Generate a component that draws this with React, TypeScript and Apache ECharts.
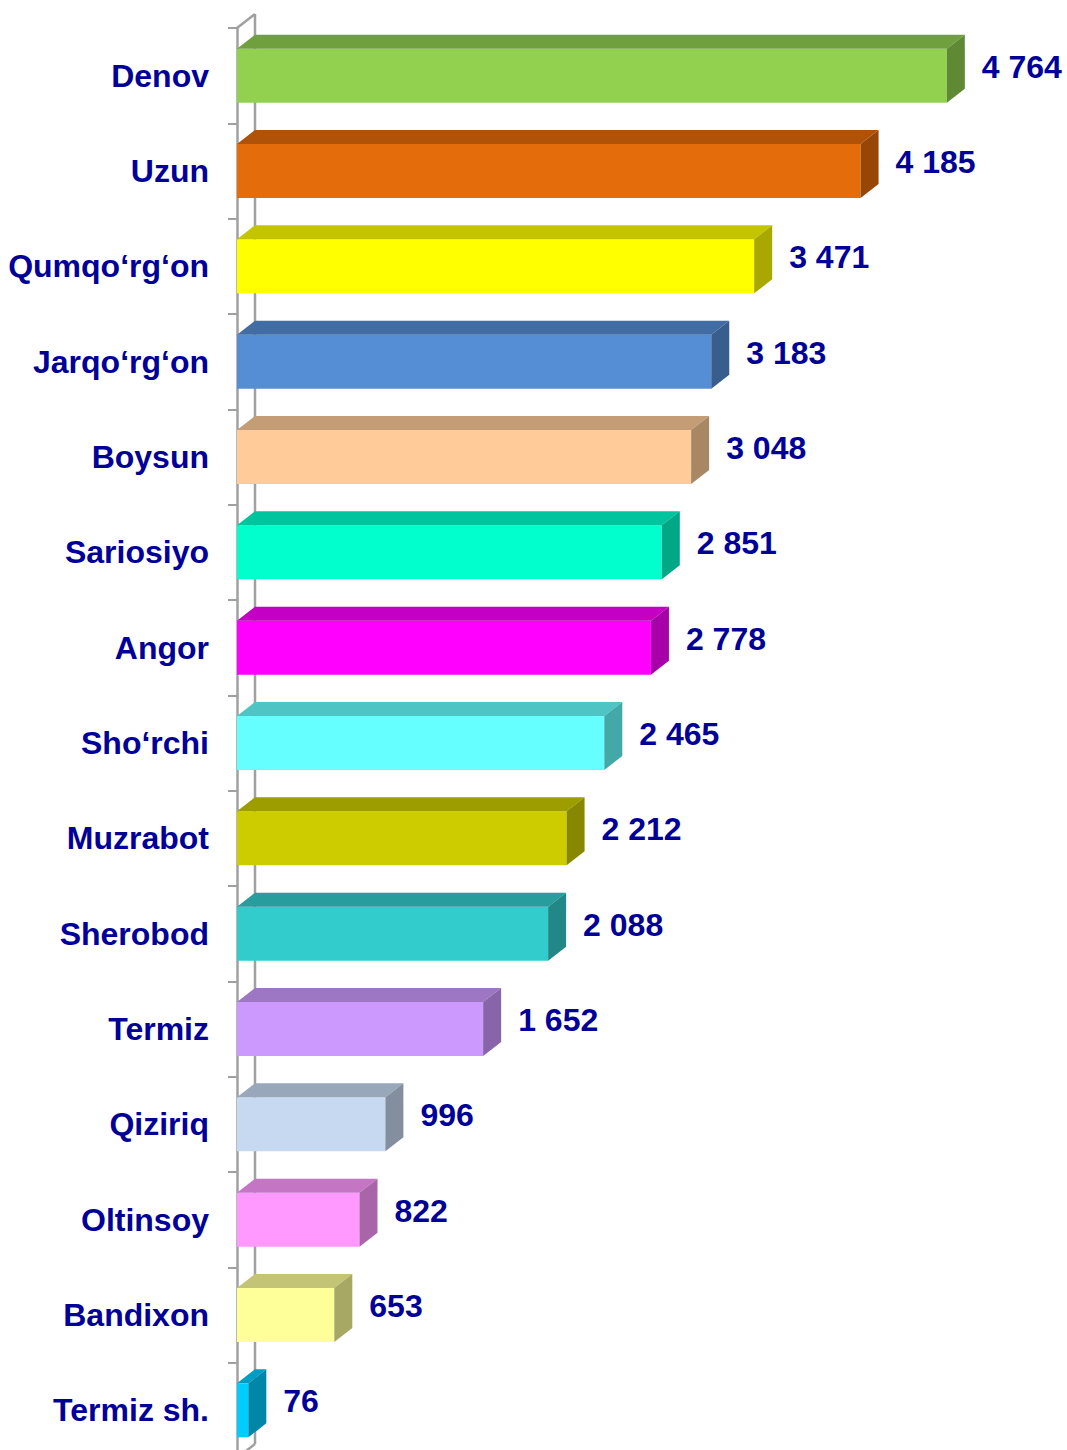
import React, { useEffect, useRef } from "react";
import * as echarts from "echarts";

const categories = [
  "Denov", "Uzun", "Qumqo‘rg‘on", "Jarqo‘rg‘on", "Boysun", "Sariosiyo", "Angor",
  "Sho‘rchi", "Muzrabot", "Sherobod", "Termiz", "Qiziriq", "Oltinsoy", "Bandixon", "Termiz sh.",
];
const values = [4764, 4185, 3471, 3183, 3048, 2851, 2778, 2465, 2212, 2088, 1652, 996, 822, 653, 76];
const barColors = [
  "#92D050", "#E46C0A", "#FFFF00", "#558ED5", "#FFCC99", "#00FFCC", "#FF00FF",
  "#66FFFF", "#CCCC00", "#33CCCC", "#CC99FF", "#C6D9F1", "#FF99FF", "#FFFF99", "#00CCFF",
];

const DX = 18;
const DY = 14;
const TEXT_COLOR = "#000099";
const FONT = "Liberation Sans, Arial, sans-serif";
const WALL = "#A0A0A0";

function shade(hex: string, f: number): string {
  const n = parseInt(hex.slice(1), 16);
  const r = Math.round(((n >> 16) & 255) * f);
  const g = Math.round(((n >> 8) & 255) * f);
  const b = Math.round((n & 255) * f);
  return `rgb(${r},${g},${b})`;
}

function fmt(v: number): string {
  return String(v).replace(/\B(?=(\d{3})+(?!\d))/g, " ");
}

export default function App() {
  const ref = useRef<HTMLDivElement>(null);
  useEffect(() => {
    document.body.style.margin = "0";
    const chart = echarts.init(ref.current!, undefined, { renderer: "svg" });
    chart.setOption({
      animation: false,
      backgroundColor: "#ffffff",
      grid: { left: 237, top: 28, width: 745, height: 1430 },
      xAxis: { type: "value", min: 0, max: 5000, show: false },
      yAxis: {
        type: "category",
        inverse: true,
        data: categories,
        axisLine: { show: true, lineStyle: { color: WALL, width: 2.5 } },
        axisTick: { show: true, length: 9, lineStyle: { color: WALL, width: 2 } },
        axisLabel: {
          margin: 28,
          color: TEXT_COLOR,
          fontSize: 32,
          fontWeight: "bold",
          fontFamily: FONT,
        },
        splitLine: { show: false },
      },
      series: [
        {
          type: "custom",
          z: 1,
          silent: true,
          data: [[0, 0]],
          renderItem: (params: any) => {
            const cs = params.coordSys;
            const x = cs.x, y = cs.y, h = cs.height;
            const ls = { stroke: WALL, lineWidth: 2.5, fill: null };
            return {
              type: "group",
              children: [
                { type: "line", shape: { x1: x, y1: y, x2: x + DX, y2: y - DY }, style: ls },
                { type: "line", shape: { x1: x + DX, y1: y - DY, x2: x + DX, y2: y + h - DY }, style: ls },
                { type: "line", shape: { x1: x, y1: y + h, x2: x + DX, y2: y + h - DY }, style: ls },
              ],
            };
          },
        },
        {
          type: "custom",
          z: 2,
          encode: { x: 0, y: 1 },
          data: values.map((v, i) => [v, i]),
          renderItem: (params: any, api: any) => {
            const v = api.value(0);
            const i = api.value(1);
            const start = api.coord([0, i]);
            const end = api.coord([v, i]);
            const band = api.size([0, 1])[1];
            const h = band * 0.566;
            const x0 = start[0];
            const x1 = end[0];
            const top = start[1] - h / 2;
            const bottom = start[1] + h / 2;
            const c = barColors[params.dataIndex];
            return {
              type: "group",
              children: [
                {
                  type: "rect",
                  shape: { x: x0, y: top, width: x1 - x0, height: h },
                  style: { fill: c },
                },
                {
                  type: "polygon",
                  shape: { points: [[x0, top], [x0 + DX, top - DY], [x1 + DX, top - DY], [x1, top]] },
                  style: { fill: shade(c, 0.77) },
                },
                {
                  type: "polygon",
                  shape: { points: [[x1, top], [x1 + DX, top - DY], [x1 + DX, bottom - DY], [x1, bottom]] },
                  style: { fill: shade(c, 0.66) },
                },
                {
                  type: "text",
                  style: {
                    text: fmt(v),
                    x: x1 + DX + 17,
                    y: start[1] - 9,
                    align: "left",
                    verticalAlign: "middle",
                    fill: TEXT_COLOR,
                    font: `bold 32px ${FONT}`,
                  },
                },
              ],
            };
          },
        },
      ],
    });
    return () => chart.dispose();
  }, []);
  return (
    <div style={{ width: 1067, height: 1450, overflow: "hidden", position: "relative" }}>
      <div ref={ref} style={{ width: 1067, height: 1470 }} />
    </div>
  );
}
